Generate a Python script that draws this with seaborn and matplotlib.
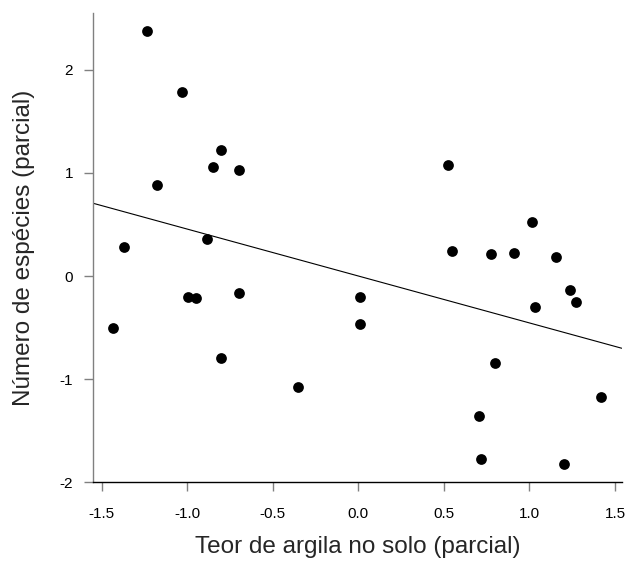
import matplotlib
matplotlib.use("Agg")
import matplotlib.pyplot as plt
import seaborn as sns
import pandas as pd

# Partial residuals
clay_partial = [-1.237, -1.033, -0.801, -0.850, -0.700, -1.179,
                -1.368, -0.887, -0.994, -0.951, -0.700, -1.434, -0.805,
                -0.355, 0.007, 0.007, 0.522, 1.016, 0.545, 0.777, 0.909,
                1.157, 1.237, 1.272, 1.032, 0.800, 1.420, 0.705, 0.716, 1.200]
species_partial = [2.375, 1.784, 1.219, 1.060, 1.031, 0.882,
                   0.278, 0.359, -0.200, -0.216, -0.168, -0.501, -0.792,
                   -1.076, -0.204, -0.462, 1.079, 0.526, 0.239, 0.210, 0.220,
                   0.181, -0.136, -0.249, -0.304, -0.847, -1.176, -1.354, -1.771, -1.826]

fit_intercept = 0.0
fit_slope = -0.455

x_ticks = [-1.5, -1.0, -0.5, 0.0, 0.5, 1.0, 1.5]
y_ticks = [-2, -1, 0, 1, 2]

df = pd.DataFrame({"x": clay_partial, "y": species_partial})

sns.set_style("ticks")
plt.rcParams["font.family"] = ["Liberation Sans", "DejaVu Sans"]

fig = plt.figure(figsize=(6.27, 5.62), dpi=100)
ax = fig.add_axes([93.3 / 627, 1 - 482.3 / 562, (621.7 - 93.3) / 627, (482.3 - 13.3) / 562])

sns.scatterplot(data=df, x="x", y="y", ax=ax, color="black", s=60,
                edgecolor="black", linewidth=0, zorder=3)
ax.axline((0, fit_intercept), slope=fit_slope, color="black", linewidth=0.8, zorder=2)

ax.set_xlim(-1.549, 1.539)
ax.set_ylim(-2.0, 2.547)
ax.set_xticks(x_ticks)
ax.set_xticklabels([f"{v:.1f}" for v in x_ticks])
ax.set_yticks(y_ticks)
ax.set_yticklabels([str(v) for v in y_ticks])

sns.despine(ax=ax)
ax.spines["left"].set_color("#808080")
ax.spines["bottom"].set_color("black")
for sp in ("left", "bottom"):
    ax.spines[sp].set_linewidth(1.0)
ax.tick_params(axis="both", length=6.5, width=1.0, color="#808080",
               labelsize=11, labelcolor="black")
ax.tick_params(axis="x", pad=11)
ax.tick_params(axis="y", pad=8)

ax.set_xlabel("Teor de argila no solo (parcial)", fontsize=17.5, labelpad=11)
ax.set_ylabel("Número de espécies (parcial)", fontsize=17.5, labelpad=18)

fig.savefig("out.png", dpi=100)
